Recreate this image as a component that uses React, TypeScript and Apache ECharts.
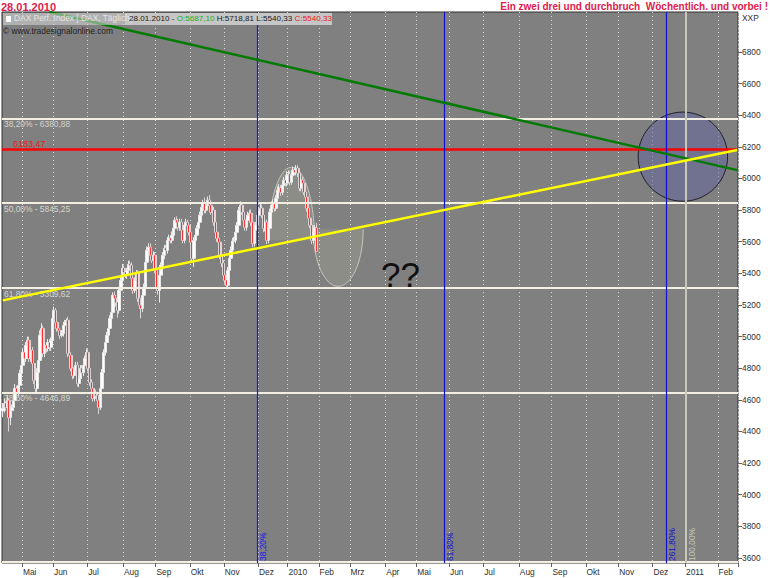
import React, { useEffect, useRef } from "react";
import * as echarts from "echarts";

const SANS = "'Liberation Sans',Arial,sans-serif";
const SMALL = 8.4;

// month layout: label shown at the first session of the month, and sessions in that month
const monthLabels = ["", "Mai", "Jun", "Jul", "Aug", "Sep", "Okt", "Nov", "Dez", "2010", "Feb", "Mrz", "Apr", "Mai", "Jun", "Jul", "Aug", "Sep", "Okt", "Nov", "Dez", "2011", "Feb"];
const monthSessions = [13, 20, 22, 23, 21, 22, 22, 22, 19, 20, 20, 23, 20, 21, 22, 23, 21, 22, 21, 22, 21, 21, 13];
const yTicks = [3600, 3800, 4000, 4200, 4400, 4600, 4800, 5000, 5200, 5400, 5600, 5800, 6000, 6200, 6400, 6600, 6800];

const opens = [
  4530,4545,4577,4552,4596,4488,4533,4552,4596,4672,
  4647,4691,4767,4818,4900,4862,4944,4976,4862,4913,
  4830,4723,4672,4773,4849,5008,5052,4894,4944,4925,
  4963,4932,4976,5115,5166,5090,5052,5039,5008,5020,
  5071,5090,5103,4894,4881,4799,4754,4786,4818,4704,
  4735,4799,4773,4818,4862,4900,4799,4710,4672,4609,
  4647,4628,4596,4552,4672,4773,4900,4963,5008,5052,
  5115,5153,5261,5242,5217,5166,5293,5356,5432,5407,
  5388,5419,5457,5451,5369,5293,5356,5400,5242,5198,
  5179,5261,5312,5470,5546,5565,5514,5483,5514,5419,
  5312,5293,5388,5451,5514,5559,5546,5609,5622,5609,
  5641,5685,5736,5723,5692,5723,5673,5609,5704,5723,
  5704,5660,5597,5495,5609,5641,5685,5723,5768,5818,
  5844,5799,5831,5863,5831,5787,5799,5723,5660,5622,
  5597,5514,5464,5388,5356,5324,5419,5495,5546,5603,
  5609,5660,5704,5799,5831,5787,5736,5692,5736,5768,
  5780,5723,5590,5673,5704,5768,5799,5812,5768,5685,
  5723,5609,5685,5787,5831,5844,5812,5875,5926,5939,
  5913,5958,5989,5970,6021,6027,5977,6021,6053,6040,
  6065,6034,5939,5989,5970,5913,5882,5812,5749,5704,
  5609,5660,5687,
];
const closes = [
  4545,4577,4552,4596,4488,4533,4552,4596,4672,4647,
  4691,4767,4818,4900,4862,4944,4976,4862,4913,4830,
  4723,4672,4773,4849,5008,5052,4894,4944,4925,4963,
  4932,4976,5115,5166,5090,5052,5039,5008,5020,5071,
  5090,5103,4894,4881,4799,4754,4786,4818,4704,4735,
  4799,4773,4818,4862,4900,4799,4710,4672,4609,4647,
  4628,4596,4552,4672,4773,4900,4963,5008,5052,5115,
  5153,5261,5242,5217,5166,5293,5356,5432,5407,5388,
  5419,5457,5451,5369,5293,5356,5400,5242,5198,5179,
  5261,5312,5470,5546,5565,5514,5483,5514,5419,5312,
  5293,5388,5451,5514,5559,5546,5609,5622,5609,5641,
  5685,5736,5723,5692,5723,5673,5609,5704,5723,5704,
  5660,5597,5495,5609,5641,5685,5723,5768,5818,5844,
  5799,5831,5863,5831,5787,5799,5723,5660,5622,5597,
  5514,5464,5388,5356,5324,5419,5495,5546,5603,5609,
  5660,5704,5799,5831,5787,5736,5692,5736,5768,5780,
  5723,5590,5673,5704,5768,5799,5812,5768,5685,5723,
  5609,5685,5787,5831,5844,5812,5875,5926,5939,5913,
  5958,5989,5970,6021,6027,5977,6021,6053,6040,6065,
  6034,5939,5989,5970,5913,5882,5812,5749,5704,5609,
  5660,5687,5540,
];
const lows = [
  4490,4520,4530,4530,4400,4440,4510,4530,4570,4620,
  4620,4670,4740,4800,4840,4840,4920,4840,4840,4810,
  4700,4640,4650,4750,4830,4985,4870,4870,4900,4905,
  4910,4910,4955,5090,5070,5030,5020,4985,4995,5000,
  5050,5070,4870,4860,4780,4730,4735,4765,4685,4680,
  4710,4750,4750,4800,4845,4780,4690,4650,4590,4590,
  4605,4575,4510,4535,4650,4750,4880,4945,4990,5030,
  5095,5130,5225,5190,5120,5145,5270,5335,5385,5370,
  5365,5395,5430,5345,5270,5275,5335,5220,5175,5115,
  5155,5235,5295,5450,5525,5495,5465,5465,5400,5290,
  5265,5215,5370,5430,5490,5525,5525,5590,5590,5590,
  5620,5665,5700,5670,5670,5650,5590,5590,5685,5685,
  5640,5575,5470,5440,5590,5620,5665,5705,5750,5800,
  5780,5780,5810,5810,5770,5770,5700,5640,5600,5570,
  5490,5440,5365,5335,5300,5310,5400,5475,5525,5585,
  5590,5640,5685,5780,5770,5715,5670,5670,5720,5750,
  5700,5565,5570,5650,5685,5750,5780,5750,5660,5665,
  5585,5590,5665,5770,5815,5790,5795,5855,5905,5890,
  5895,5935,5950,5950,6000,5955,5960,6000,6025,6020,
  6010,5920,5920,5950,5895,5860,5790,5730,5685,5585,
  5590,5640,5540,
];
const highs = [
  4580,4610,4590,4630,4610,4560,4570,4625,4700,4690,
  4710,4790,4840,4925,4925,4965,5000,5000,4935,4935,
  4850,4740,4800,4870,5040,5085,5070,4965,4960,4985,
  4985,4995,5140,5190,5180,5110,5075,5055,5040,5090,
  5105,5115,5125,4915,4900,4820,4805,4840,4840,4755,
  4820,4820,4835,4880,4925,4920,4815,4730,4690,4670,
  4665,4650,4615,4690,4795,4920,4985,5030,5075,5135,
  5175,5280,5285,5260,5235,5315,5380,5460,5450,5425,
  5435,5480,5480,5470,5390,5375,5420,5420,5265,5220,
  5280,5335,5490,5570,5590,5590,5535,5540,5535,5440,
  5335,5410,5470,5535,5580,5580,5630,5645,5640,5665,
  5705,5755,5760,5745,5745,5745,5695,5725,5745,5740,
  5725,5680,5620,5630,5660,5705,5745,5790,5840,5865,
  5880,5850,5885,5895,5855,5820,5820,5745,5680,5640,
  5620,5535,5485,5410,5375,5440,5515,5570,5625,5630,
  5680,5725,5820,5855,5850,5810,5755,5755,5790,5800,
  5805,5745,5695,5725,5790,5820,5845,5835,5790,5745,
  5740,5710,5810,5855,5870,5865,5895,5950,5965,5960,
  5980,6010,6010,6045,6050,6050,6040,6075,6070,6085,
  6085,6055,6005,6010,5990,5935,5900,5830,5770,5725,
  5680,5705,5719,
];

const fibLevels = [
  { value: 6380.88, label: "38,20% - 6380,88" },
  { value: 5845.25, label: "50,00% - 5845,25" },
  { value: 5309.62, label: "61,80% - 5309,62" },
  { value: 4646.89, label: "78,60% - 4646,89" },
  { value: 3577, label: "" },
];
const redLevel = { value: 6183.47, label: "6183,47" };
const timeLines = [
  { session: 164, label: "38,20%", color: "#1616f0", width: 1.2 },
  { session: 284, label: "61,80%", color: "#1010d0", width: 1.2 },
  { session: 427, label: "261,80%", color: "#1010d0", width: 1.2 },
  { session: 440, label: "100,00%", color: "#c8c8b8", width: 2 },
];
const greenTrend = [[30, 7053], [473, 6053]];
const yellowTrend = [[0, 5229], [473, 6180]];
// centre session, centre price, radius in sessions, radius in price, start and end angle
const bubbles = [[438, 6138, 28.8, 282, 0, 360]];
const sketches = [
  [186, 5609, 14.8, 462, 180, 360],
  [216, 5679, 16.1, 361, 0, 180],
];

const totalSessions = monthSessions.reduce((a, b) => a + b, 0);
const categories = Array.from({ length: totalSessions }, (_, i) => String(i));
const monthAt = new Map<number, string>();
{
  let at = 0;
  monthSessions.forEach((n, i) => {
    if (i > 0) monthAt.set(at, monthLabels[i]);
    at += n;
  });
}

function ellipseSeries(name: string, rows: number[][], fill: string, stroke: string, lineWidth: number, z: number) {
  return {
    type: "custom",
    name,
    z,
    silent: true,
    clip: true,
    data: rows,
    encode: { x: 0, y: 1 },
    renderItem: (_: any, api: any) => {
      const c = api.coord([api.value(0), api.value(1)]);
      const rx = api.value(2) * api.size([1, 0])[0];
      const ry = api.size([0, api.value(3)])[1];
      const a0 = api.value(4);
      const a1 = api.value(5);
      const pts: number[][] = [];
      for (let k = 0; k <= 72; k++) {
        const t = ((a0 + ((a1 - a0) * k) / 72) * Math.PI) / 180;
        pts.push([c[0] + rx * Math.cos(t), c[1] + ry * Math.sin(t)]);
      }
      return {
        type: "group",
        children: [
          { type: "polygon", shape: { points: pts }, style: { fill, stroke: null } },
          { type: "polyline", shape: { points: pts }, style: { fill: null, stroke, lineWidth } },
        ],
      };
    },
  };
}

export default function App() {
  const ref = useRef<HTMLDivElement>(null);
  useEffect(() => {
    const chart = echarts.init(ref.current!, undefined, { renderer: "svg" });
    const candleData = opens.map((o, i) => [o, closes[i], lows[i], highs[i]]);
    const redData = opens.map((o, i) => (closes[i] < o ? [o, closes[i], closes[i], o] : ["-", "-", "-", "-"]));
    chart.setOption({
      animation: false,
      backgroundColor: "#ffffff",
      grid: { left: 2, right: 32, top: 12, height: 551, show: true, backgroundColor: "#808080", borderColor: "#303030", borderWidth: 1 },
      xAxis: {
        type: "category",
        data: categories,
        boundaryGap: true,
        axisLine: { show: false },
        axisTick: { show: true, length: 4, interval: (i: number) => monthAt.has(i), lineStyle: { color: "#606060" } },
        splitLine: { show: true, interval: (i: number) => monthAt.has(i), lineStyle: { color: "#d8d8d8", type: [1, 3], width: 1 } },
        axisLabel: {
          show: true,
          interval: (i: number) => monthAt.has(i),
          formatter: (_: string, i: number) => monthAt.get(i) ?? "",
          align: "left",
          margin: 5,
          color: "#303030",
          fontFamily: SANS,
          fontSize: SMALL,
        },
      },
      yAxis: {
        type: "value",
        position: "right",
        min: 3568,
        max: 7053,
        axisLine: { show: false },
        splitLine: { show: false },
        axisTick: { show: true, length: 4, customValues: yTicks, lineStyle: { color: "#606060" } },
        axisLabel: { show: true, customValues: yTicks, formatter: (v: number) => String(v), margin: 4, color: "#303030", fontFamily: SANS, fontSize: SMALL },
      },
      series: [
        ellipseSeries("Kreis", bubbles, "rgba(98,98,160,0.5)", "#202028", 1, 1),
        ellipseSeries("Skizze", sketches, "rgba(255,255,210,0.1)", "#c8c8c0", 1, 1),
        {
          type: "candlestick",
          name: "DAX",
          z: 3,
          barWidth: 3,
          silent: true,
          data: candleData,
          itemStyle: { color: "#ffffff", color0: "#f4d4d4", borderColor: "#e8e8e8", borderColor0: "#dcd4d4", borderWidth: 1 },
        },
        {
          type: "candlestick",
          name: "DAX down",
          z: 4,
          barWidth: 1,
          silent: true,
          data: redData,
          itemStyle: { color: "#ff3030", color0: "#ff3030", borderColor: "#ff3030", borderColor0: "#ff3030", borderWidth: 1 },
        },
        {
          type: "line",
          name: "Fibonacci",
          z: 5,
          silent: true,
          data: [],
          markLine: {
            silent: true,
            symbol: "none",
            animation: false,
            data: [
              ...fibLevels.map((f) => ({
                yAxis: f.value,
                lineStyle: { color: "#f2eee2", width: 2, type: "solid" },
                label: { show: !!f.label, formatter: f.label, position: "insideStartBottom", distance: 2, color: "#d6d6ce", fontFamily: SANS, fontSize: SMALL },
              })),
              {
                yAxis: redLevel.value,
                lineStyle: { color: "#ff0000", width: 2.5, type: "solid" },
                label: { show: true, formatter: redLevel.label, position: "insideStartTop", distance: 1, padding: [0, 0, 0, 10], color: "#ea1a1a", fontFamily: SANS, fontSize: 9 },
              },
            ],
          },
        },
        ...timeLines.map((t) => ({
          type: "line",
          name: t.label,
          z: 5,
          silent: true,
          data: [],
          markLine: {
            silent: true,
            symbol: "none",
            animation: false,
            data: [
              {
                xAxis: t.session,
                lineStyle: { color: t.color, width: t.width, type: "solid" },
                label: { show: true, formatter: t.label, position: "insideStartBottom", distance: 2, color: t.color, fontFamily: SANS, fontSize: SMALL },
              },
            ],
          },
        })),
        { type: "line", name: "Abwärtstrend", z: 6, silent: true, symbol: "none", data: greenTrend, lineStyle: { color: "#007a00", width: 2.5 } },
        { type: "line", name: "Aufwärtstrend", z: 7, silent: true, symbol: "none", data: yellowTrend, lineStyle: { color: "#ffff00", width: 2.5 } },
      ],
      graphic: [
        { type: "text", left: 1, top: 1, z: 20, style: { text: "28.01.2010", fill: "#e0204a", font: `bold 11px ${SANS}` } },
        { type: "text", right: 2, top: 1, z: 20, style: { text: "Ein zwei drei und durchbruch  Wöchentlich. und vorbei !", fill: "#e0204a", font: `bold 10px ${SANS}` } },
        { type: "text", left: 742, top: 14, z: 20, style: { text: "XXP", fill: "#303030", font: `${SMALL}px ${SANS}` } },
        { type: "rect", shape: { x: 3, y: 13, width: 122, height: 12 }, z: 18, style: { fill: "rgba(215,215,215,0.55)" } },
        { type: "rect", shape: { x: 125, y: 13, width: 207, height: 12 }, z: 18, style: { fill: "#c6c6c6" } },
        { type: "rect", shape: { x: 6, y: 16, width: 5, height: 6 }, z: 19, style: { fill: "#ffffff" } },
        { type: "text", left: 14, top: 14, z: 20, style: { text: "DAX Perf. Index [.DAX, Täglich]", fill: "#e4e4e4", font: `8.4px ${SANS}` } },
        {
          type: "text",
          left: 129,
          top: 14,
          z: 20,
          style: {
            text: "{k|28.01.2010 - }{g|O:5687,10} {k|H:5718,81 L:5540,33} {r|C:5540,33}",
            font: `8.1px ${SANS}`,
            rich: {
              k: { fill: "#202020", font: `8.1px ${SANS}` },
              g: { fill: "#20b020", font: `8.1px ${SANS}` },
              r: { fill: "#e82020", font: `8.1px ${SANS}` },
            },
          },
        },
        { type: "text", left: 3, top: 27, z: 20, style: { text: "© www.tradesignalonline.com", fill: "#202020", font: `${SMALL}px ${SANS}` } },
        { type: "text", left: 381, top: 257, z: 20, style: { text: "??", fill: "#101010", font: `35px ${SANS}` } },
      ],
    });
    return () => chart.dispose();
  }, []);
  return <div ref={ref} style={{ position: "fixed", left: 0, top: 0, width: 770, height: 578 }} />;
}
